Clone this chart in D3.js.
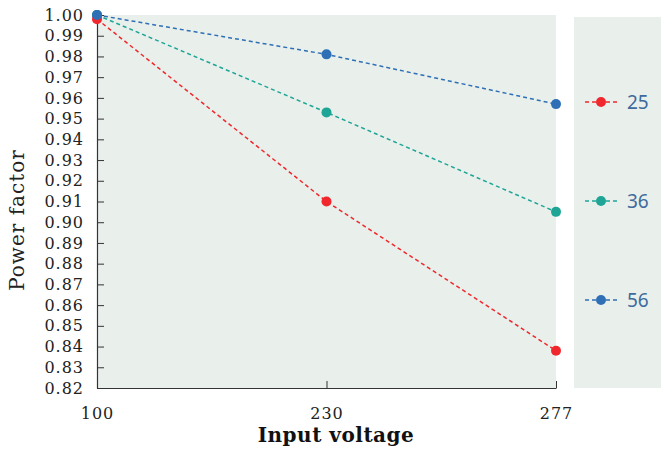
<!DOCTYPE html>
<html><head><meta charset="utf-8">
<script src="https://cdn.jsdelivr.net/npm/d3@7"></script>
<style>body{margin:0;background:#fff}svg{display:block}</style>
</head><body>
<svg id="c" width="661" height="452"></svg>
<script>
const categories = ["100", "230", "277"];
const seriesNames = ["25", "36", "56"];
const values25 = [0.998, 0.910, 0.838];
const values36 = [1.000, 0.953, 0.905];
const values56 = [1.000, 0.981, 0.957];
const colors = ["#f0282d", "#1ea596", "#2f6fb5"];
const yTicks = [0.82,0.83,0.84,0.85,0.86,0.87,0.88,0.89,0.90,0.91,0.92,0.93,0.94,0.95,0.96,0.97,0.98,0.99,1.00];

const series = [values25, values36, values56].map((v,i)=>({name:seriesNames[i], values:v, color:colors[i]}));

const svg = d3.select("#c");
const L = 97, R = 556, T = 15, B = 388;
const x = d3.scalePoint().domain(categories).range([L, R]);
const y = d3.scaleLinear().domain([0.82, 1.00]).range([B, T]);

svg.append("rect").attr("x", L).attr("y", T).attr("width", R-L).attr("height", B-T).attr("fill", "#e9f0ec");
svg.append("rect").attr("x", 574).attr("y", 17).attr("width", 87).attr("height", 371).attr("fill", "#e9f0ec");

const serif = "'DejaVu Serif', 'Liberation Serif', serif";

const ya = svg.append("g").attr("transform", `translate(${L},0)`)
  .call(d3.axisLeft(y).tickValues(yTicks).tickFormat(d3.format(".2f")).tickSizeInner(-7).tickSizeOuter(0).tickPadding(13));
ya.select(".domain").attr("stroke", "#333").attr("stroke-width", 1.2);
ya.selectAll(".tick line").attr("stroke", "#333");
ya.selectAll(".tick text").attr("font-family", serif).attr("font-size", 16).attr("letter-spacing", 1).attr("fill", "#222");

const xa = svg.append("g").attr("transform", `translate(0,${B})`)
  .call(d3.axisBottom(x).tickSizeInner(-7).tickSizeOuter(0).tickPadding(20));
xa.select(".domain").attr("stroke", "#333").attr("stroke-width", 1.2);
xa.selectAll(".tick line").attr("stroke", "#333");
xa.selectAll(".tick text").attr("font-family", serif).attr("font-size", 16).attr("letter-spacing", 1).attr("fill", "#222");

svg.append("text").attr("x", 336).attr("y", 442).attr("text-anchor", "middle")
  .attr("font-family", serif).attr("font-weight", "bold").attr("font-size", 20).attr("letter-spacing", 0.5).attr("fill", "#111").text("Input voltage");
svg.append("text").attr("transform", "translate(24,220) rotate(-90)").attr("text-anchor", "middle")
  .attr("font-family", serif).attr("font-size", 20).attr("letter-spacing", 1).attr("fill", "#222").text("Power factor");

const line = d3.line().x((d,i)=>x(categories[i])).y(d=>y(d));
series.slice().reverse().forEach(s=>{
  svg.append("path").attr("d", line(s.values)).attr("fill","none").attr("stroke", s.color)
    .attr("stroke-width", 1.5).attr("stroke-dasharray", "4,3");
});
series.slice().reverse().forEach(s=>{
  svg.selectAll(null).data(s.values).enter().append("circle")
    .attr("cx", (d,i)=>x(categories[i])).attr("cy", d=>y(d)).attr("r", 5).attr("fill", s.color);
});
svg.append("circle").attr("cx", x(categories[0])).attr("cy", y(values56[0])).attr("r", 5).attr("fill", colors[2]);

const lg = svg.append("g");
series.forEach((s,i)=>{
  const yy = 102 + i*99;
  lg.append("line").attr("x1", 585).attr("x2", 618).attr("y1", yy).attr("y2", yy)
    .attr("stroke", s.color).attr("stroke-width", 1.5).attr("stroke-dasharray", "4,3");
  lg.append("circle").attr("cx", 601).attr("cy", yy).attr("r", 5).attr("fill", s.color);
  lg.append("text").attr("x", 627).attr("y", yy+7).attr("font-family", "'Noto Sans', 'Open Sans', sans-serif")
    .attr("font-size", 19).attr("fill", "#3f6a9c").text(s.name);
});
</script>
</body></html>
